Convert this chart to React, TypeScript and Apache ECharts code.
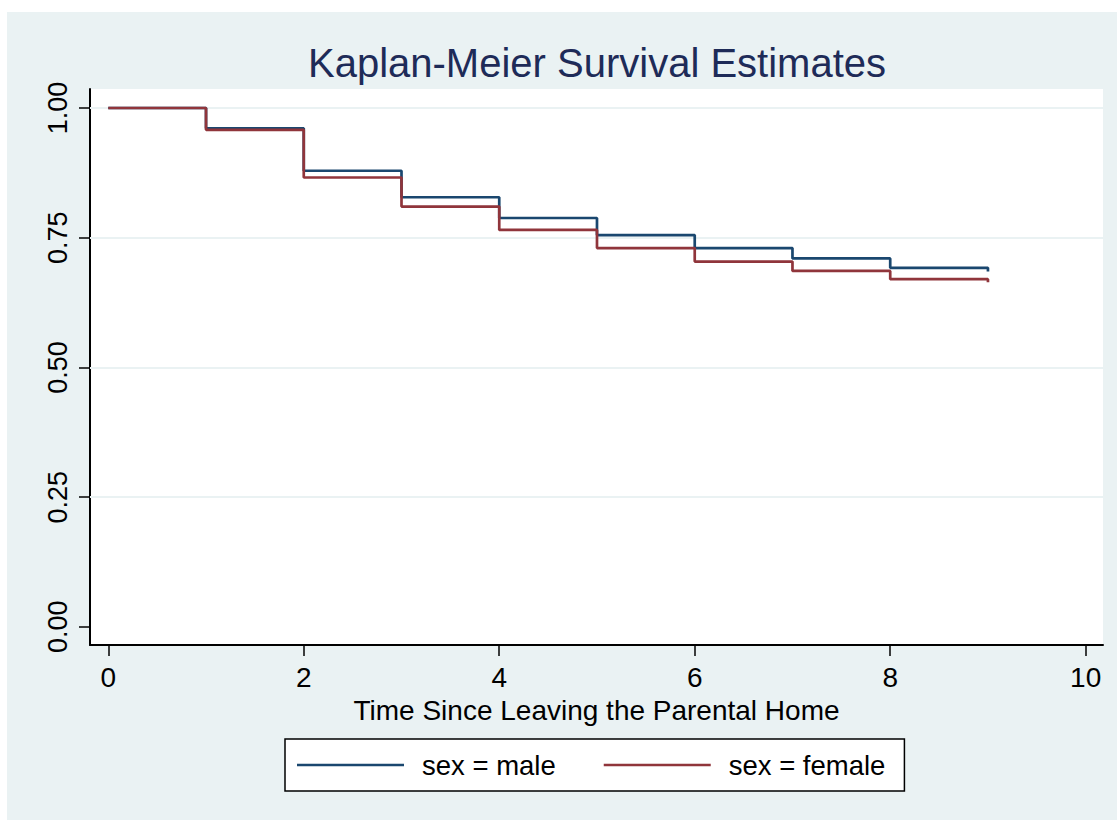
import React, { useEffect, useRef } from "react";
import * as echarts from "echarts";

const times = [0, 1, 2, 3, 4, 5, 6, 7, 8, 9];
const maleSurv = [1.0, 0.961, 0.879, 0.828, 0.788, 0.755, 0.73, 0.71, 0.692, 0.685];
const femaleSurv = [1.0, 0.958, 0.866, 0.81, 0.765, 0.73, 0.704, 0.686, 0.67, 0.664];
const xTicks = [0, 2, 4, 6, 8, 10];
const yTicks = [0, 0.25, 0.5, 0.75, 1];
const gridValues = [0.25, 0.5, 0.75, 1];
const seriesNames = ["sex = male", "sex = female"];

const FONT = '"Liberation Sans", Arial, Helvetica, sans-serif';
const NAVY = "#1A476F";
const MAROON = "#90353B";
const BG = "#EAF2F3";

export default function App() {
  const ref = useRef<HTMLDivElement>(null);

  useEffect(() => {
    if (!ref.current) return;
    const chart = echarts.init(ref.current, null, { renderer: "svg" });
    const option: any = {
      animation: false,
      backgroundColor: "transparent",
      graphic: [
        {
          type: "text",
          x: 597,
          y: 62.5,
          silent: true,
          style: {
            text: "Kaplan-Meier Survival Estimates",
            fill: "#1e2b58",
            fontSize: 40,
            fontFamily: FONT,
            align: "center",
            verticalAlign: "middle",
            textAlign: "center",
            textVerticalAlign: "middle",
          },
        },
      ],
      grid: {
        left: 90,
        top: 89,
        width: 1013,
        height: 556,
        show: true,
        backgroundColor: "#ffffff",
        borderWidth: 0,
        containLabel: false,
      },
      xAxis: {
        type: "value",
        min: -0.187,
        max: 10.177,
        name: "Time Since Leaving the Parental Home",
        nameLocation: "middle",
        nameGap: 40,
        nameTextStyle: { fontSize: 28, color: "#000", fontFamily: FONT },
        axisLine: { show: true, onZero: false, lineStyle: { color: "#000", width: 2 } },
        axisTick: { show: true, length: 11, customValues: xTicks, lineStyle: { color: "#000", width: 1.5 } },
        axisLabel: {
          customValues: xTicks,
          margin: 18.5,
          fontSize: 28,
          color: "#000",
          fontFamily: FONT,
          formatter: (v: number) => String(v),
        },
        splitLine: { show: false },
      },
      yAxis: {
        type: "value",
        min: -0.035,
        max: 1.0366,
        axisLine: { show: true, onZero: false, lineStyle: { color: "#000", width: 2 } },
        axisTick: { show: true, length: 11, customValues: yTicks, lineStyle: { color: "#000", width: 1.5 } },
        axisLabel: {
          customValues: yTicks,
          rotate: 90,
          margin: 19,
          fontSize: 27,
          color: "#000",
          fontFamily: FONT,
          formatter: (v: number) => v.toFixed(2),
        },
        splitLine: { show: false },
      },
      legend: {
        data: seriesNames,
        left: 285,
        top: 739,
        orient: "horizontal",
        padding: [12, 19, 12, 12],
        itemGap: 48,
        itemWidth: 107,
        itemHeight: 2.5,
        icon: "rect",
        selectedMode: false,
        backgroundColor: "#ffffff",
        borderColor: "#000",
        borderWidth: 1.5,
        borderRadius: 0,
        textStyle: { fontSize: 27.5, color: "#000", fontFamily: FONT, padding: [0, 0, 0, 13] },
      },
      series: [
        {
          name: "grid",
          type: "line",
          data: [],
          silent: true,
          z: 1,
          markLine: {
            silent: true,
            z: 1,
            symbol: ["none", "none"],
            label: { show: false },
            lineStyle: { color: BG, width: 2, type: "solid" },
            data: gridValues.map((v) => ({ yAxis: v })),
          },
        },
        {
          name: seriesNames[0],
          type: "line",
          step: "end",
          symbol: "none",
          showSymbol: false,
          z: 3,
          color: NAVY,
          lineStyle: { color: NAVY, width: 2.7 },
          data: times.map((t, i) => [t, maleSurv[i]]),
        },
        {
          name: seriesNames[1],
          type: "line",
          step: "end",
          symbol: "none",
          showSymbol: false,
          z: 4,
          color: MAROON,
          lineStyle: { color: MAROON, width: 2.7 },
          data: times.map((t, i) => [t, femaleSurv[i]]),
        },
      ],
    };
    chart.setOption(option);
    return () => chart.dispose();
  }, []);

  return (
    <div style={{ position: "absolute", left: 0, top: 0, width: 1117, height: 820, background: "#ffffff" }}>
      <div style={{ position: "absolute", left: 7, top: 12, width: 1110, height: 808, background: BG }} />
      <div ref={ref} style={{ position: "absolute", left: 0, top: 0, width: 1117, height: 820 }} />
    </div>
  );
}
